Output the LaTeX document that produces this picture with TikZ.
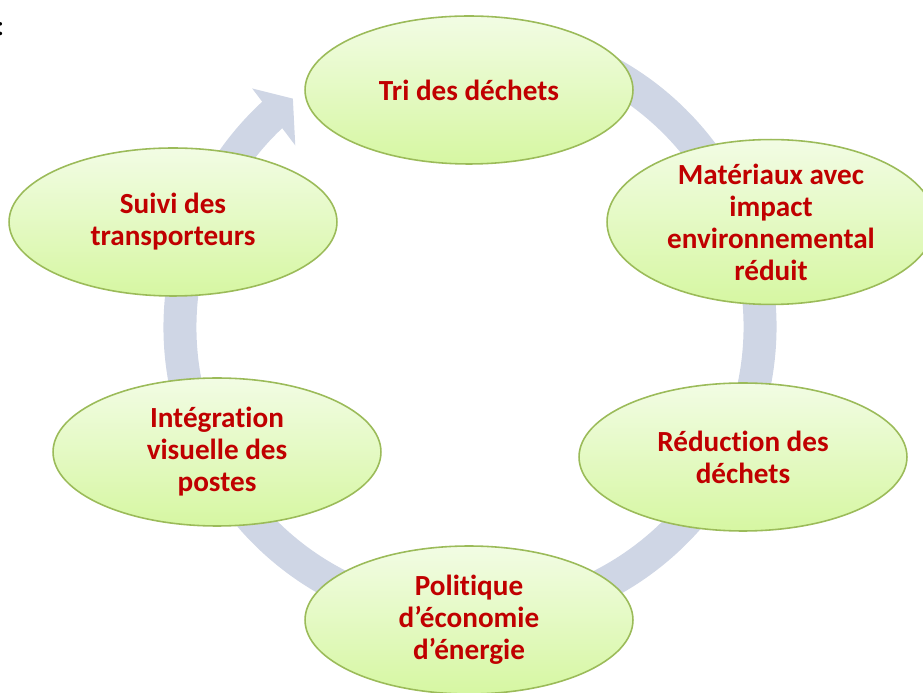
\documentclass[tikz,border=0pt]{standalone}
\usepackage{fontspec}
\setmainfont{Carlito}[Ligatures=NoCommon]
\usetikzlibrary{shapes.geometric}
\definecolor{anneaucoul}{RGB}{207,214,229}
\definecolor{vertclair}{RGB}{242,252,228}
\definecolor{vertfonce}{RGB}{214,247,162}
\definecolor{vertbord}{RGB}{155,187,89}
\definecolor{rougetexte}{RGB}{192,0,0}
\tikzset{
  bulle/.style={ellipse, draw=vertbord, line width=0.9pt, top color=vertclair, bottom color=vertfonce,
    minimum width=6.56cm, minimum height=2.96cm, inner sep=0pt, align=center,
    text=rougetexte, font=\fontsize{16.6}{18.2}\selectfont\bfseries},
  anneau/.style={draw=anneaucoul, line width=0.66cm}
}
\begin{document}
\begin{tikzpicture}[x=0.02cm, y=0.02cm]
        \useasboundingbox (0,0) rectangle (923,693);
        \clip (0,0) rectangle (923,693);

        % cycle arrow behind the bubbles
        \coordinate (centre) at (470,366);
        \draw[anneau] ([shift={(80:290)}]centre) arc[start angle=80, end angle=-227.5, radius=290];
        \fill[anneaucoul] ([shift={(132.4:323)}]centre) -- ([shift={(127.8:289)}]centre) -- ([shift={(133.9:252)}]centre) -- cycle;

        \node (tri) at (469,603) [bulle] {Tri des déchets};
        \node (materiaux) at (771,471) [bulle] {Matériaux avec\\impact\\environnemental\\réduit};
        \node (reduction) at (743,236) [bulle] {Réduction des\\déchets};
        \node (politique) at (469,73) [bulle] {Politique\\d’économie\\d’énergie};
        \node (integration) at (217,241) [bulle] {Intégration\\visuelle des\\postes};
        \node (suivi) at (173,471) [bulle] {Suivi des\\transporteurs};

        \node (deuxpoints) at (-3.7,657) [anchor=base west, inner sep=0pt, font=\fontsize{16.6}{18.2}\selectfont] {:};
        \end{tikzpicture}
\end{document}
